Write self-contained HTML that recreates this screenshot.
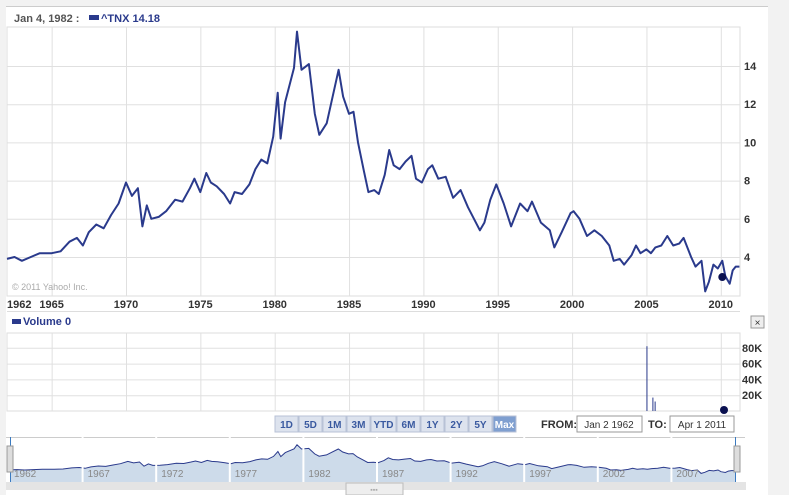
<!DOCTYPE html>
<html><head><meta charset="utf-8"><style>
body{margin:0;width:789px;height:495px;overflow:hidden;background:#fff;font-family:"Liberation Sans",sans-serif}
svg{display:block}
.btn{cursor:pointer}
</style></head><body>
<svg width="789" height="495" viewBox="0 0 789 495">
<rect x="0" y="0" width="789" height="495" fill="#f2f2f2"/>
<rect x="6" y="6" width="762" height="489" fill="#fff"/>
<line x1="6" y1="6.5" x2="768" y2="6.5" stroke="#ccc"/>
<text x="14" y="22" font-size="11" font-weight="bold" fill="#555">Jan 4, 1982 :</text>
<rect x="89" y="15" width="10" height="5" fill="#2a3a8c"/>
<text x="101" y="22" font-size="11" font-weight="bold" fill="#2a3a8c">^TNX  14.18</text>
<g id="main-grid"></g>
<g id="main-ylabels"></g>
<g id="main-xlabels"></g>
<text x="12" y="290" font-size="9" fill="#aaa">© 2011 Yahoo! Inc.</text>
<path id="main-line" fill="none" stroke="#2a3a8c" stroke-width="2" stroke-linejoin="round"/>
<circle id="main-dot" r="4" fill="#0a1050"/>
<rect x="12" y="319" width="9" height="5" fill="#2a3a8c"/>
<text x="23" y="325" font-size="11" font-weight="bold" fill="#2a3a8c">Volume  0</text>
<g class="btn">
<rect x="751" y="316" width="13" height="12" fill="#eee" stroke="#999"/>
<text x="757.5" y="326" font-size="10" text-anchor="middle" fill="#333">×</text></g>
<g id="vol-grid"></g>
<g id="vol-bars"></g>
<g id="vol-labels"></g>
<circle cx="724" cy="410" r="4" fill="#0a1050"/>
<g id="buttons"></g>
<text x="541" y="428" font-size="11" font-weight="bold" fill="#333">FROM:</text>
<rect x="577" y="416" width="65" height="16" fill="#fff" stroke="#999"/>
<text x="609" y="428" font-size="10" text-anchor="middle" fill="#333">Jan 2 1962</text>
<text x="648" y="428" font-size="11" font-weight="bold" fill="#333">TO:</text>
<rect x="670" y="416" width="64" height="16" fill="#fff" stroke="#999"/>
<text x="702" y="428" font-size="10" text-anchor="middle" fill="#333">Apr 1 2011</text>
<line x1="6" y1="437.5" x2="745" y2="437.5" stroke="#ccc"/>
<path id="nav-area" fill="#cddbea"/>
<path id="nav-line" fill="none" stroke="#2a3a8c" stroke-width="1"/>
<g id="nav-grid"></g>
<line x1="10.5" y1="437" x2="10.5" y2="482" stroke="#3a7ac0"/>
<line x1="735.5" y1="437" x2="735.5" y2="482" stroke="#3a7ac0"/>
<rect x="7" y="446" width="6" height="26" fill="#ddd" stroke="#999"/>
<rect x="734" y="446" width="6" height="26" fill="#ddd" stroke="#999"/>
<rect x="6" y="482" width="740" height="8" fill="#e4e4e4"/>
<rect x="346" y="483" width="57" height="12" fill="#eee" stroke="#bbb"/>
<text x="374" y="492" font-size="7" text-anchor="middle" fill="#aaa">▪▪▪</text>
</svg>
<script>
const years=[1962,1962.5,1963,1963.6,1964.2,1965,1965.6,1966.2,1966.7,1967.1,1967.5,1968,1968.5,1969,1969.5,1970,1970.4,1970.8,1971.1,1971.4,1971.7,1972.2,1972.7,1973.3,1973.8,1974.3,1974.6,1975,1975.4,1975.7,1976.1,1976.6,1977,1977.3,1977.8,1978.3,1978.7,1979.1,1979.5,1979.9,1980.2,1980.4,1980.7,1981.3,1981.5,1981.8,1982.3,1982.7,1983,1983.5,1984.3,1984.6,1985,1985.3,1985.6,1986,1986.3,1986.7,1987,1987.4,1987.7,1988,1988.4,1988.8,1989.2,1989.5,1989.9,1990.3,1990.6,1991,1991.5,1992,1992.5,1993,1993.8,1994.1,1994.5,1994.9,1995.4,1995.9,1996.5,1997,1997.3,1997.9,1998.5,1998.8,1999.3,1999.9,2000.1,2000.5,2001,2001.5,2002,2002.5,2002.8,2003.2,2003.5,2004,2004.3,2004.6,2005,2005.3,2005.6,2006,2006.4,2006.8,2007.2,2007.5,2008,2008.3,2008.7,2008.95,2009.2,2009.5,2009.8,2010.1,2010.3,2010.6,2010.8,2011,2011.25];
const values=[3.9,4.0,3.8,4.0,4.2,4.2,4.3,4.8,5.0,4.6,5.3,5.7,5.5,6.2,6.8,7.9,7.2,7.6,5.6,6.7,6.0,6.1,6.4,7.0,6.9,7.6,8.1,7.4,8.4,7.9,7.7,7.3,6.8,7.4,7.3,7.8,8.6,9.1,8.9,10.3,12.6,10.2,12.1,13.9,15.8,13.8,14.1,11.5,10.4,11.0,13.8,12.4,11.5,11.6,10.0,8.5,7.4,7.5,7.3,8.3,9.6,8.8,8.6,9.0,9.3,8.1,7.9,8.6,8.8,8.1,8.2,7.1,7.5,6.6,5.4,5.8,7.0,7.8,6.8,5.6,6.8,6.4,6.9,5.8,5.4,4.5,5.3,6.3,6.4,6.0,5.1,5.4,5.1,4.6,3.8,3.9,3.6,4.1,4.6,4.2,4.4,4.2,4.5,4.6,5.1,4.6,4.7,5.0,4.0,3.5,3.8,2.2,2.7,3.6,3.4,3.8,3.0,2.6,3.3,3.5,3.5];
const yTicks=[4,6,8,10,12,14];
const xTicks=[1962,1965,1970,1975,1980,1985,1990,1995,2000,2005,2010];
const volYears=[2005,2005.4,2005.55];
const volValues=[82000,17000,12000];
const volTicks=[20000,40000,60000,80000];
const navTicks=[1962,1967,1972,1977,1982,1987,1992,1997,2002,2007];
const dotYear=2010.1, dotValue=2.95;
const NS='http://www.w3.org/2000/svg';
const X=y=>126+(y-1970)*14.87;
const Y=v=>257-(v-4)*19.1;
const VY=v=>411-v*0.00079;
const NX=y=>10+(y-1962)*14.72;
const NY=v=>478-v*2.1;
function mk(tag,attrs,parent,txt){const e=document.createElementNS(NS,tag);for(const k in attrs)e.setAttribute(k,attrs[k]);if(txt!==undefined)e.textContent=txt;parent.appendChild(e);return e;}
const mg=document.getElementById('main-grid');
mk('rect',{x:7,y:27,width:733,height:269,fill:'none',stroke:'#ddd'},mg);
mk('line',{x1:7,y1:311.5,x2:740,y2:311.5,stroke:'#ddd'},mg);
const yl=document.getElementById('main-ylabels');
yTicks.forEach(t=>{
 const l=mk('line',{x1:7,x2:740,y1:Y(t)+0.5,y2:Y(t)+0.5,stroke:'#e0e0e0'},mg);
 
 
 const tx=mk('text',{x:744,y:Y(t)+4,'font-size':11,'font-weight':'bold',fill:'#333'},yl,String(t));
 
 
});
const xl=document.getElementById('main-xlabels');
xTicks.forEach(t=>{
 if(t!==1962){const l=mk('line',{x1:X(t)+0.5,x2:X(t)+0.5,y1:27,y2:296,stroke:'#e0e0e0'},mg);
 
 }
 const tx=mk('text',{x:t===1962?7:X(t),y:308,'font-size':11,'font-weight':'bold',fill:'#333','text-anchor':t===1962?'start':'middle'},xl,String(t));
 
 
});
let d='';years.forEach((y,i)=>{d+=(i?'L':'M')+X(y).toFixed(1)+','+Y(values[i]).toFixed(1);});
document.getElementById('main-line').setAttribute('d',d);
const dot=document.getElementById('main-dot');dot.setAttribute('cx',X(dotYear));dot.setAttribute('cy',Y(dotValue));
// volume
const vg=document.getElementById('vol-grid');
mk('rect',{x:7,y:333,width:733,height:78,fill:'none',stroke:'#ddd'},vg);
const vl=document.getElementById('vol-labels');
volTicks.forEach(t=>{
 mk('line',{x1:7,x2:740,y1:VY(t)+0.5,y2:VY(t)+0.5,stroke:'#e0e0e0'},vg);
 const tx=mk('text',{x:742,y:VY(t)+4,'font-size':11,'font-weight':'bold',fill:'#333'},vl,(t/1000)+'K');
 
 
});
xTicks.forEach(t=>{if(t!==1962)mk('line',{x1:X(t)+0.5,x2:X(t)+0.5,y1:333,y2:411,stroke:'#e0e0e0'},vg);});
const vb=document.getElementById('vol-bars');
volYears.forEach((y,i)=>{
 const b=mk('rect',{x:X(y),y:VY(volValues[i]),width:1,height:411-VY(volValues[i]),fill:'#2a3a8c'},vb);
 
 
});
// buttons
const labels=['1D','5D','1M','3M','YTD','6M','1Y','2Y','5Y','Max'];
const widths=[24,24,24,24,26,24,24,24,24,24];
const bg=document.getElementById('buttons');let bx=275;
labels.forEach((l,i)=>{
 const g=mk('g',{},bg);
 
 
 mk('rect',{x:bx,y:416,width:widths[i]-1,height:16,fill:l==='Max'?'#7f9fd0':'#dde3ee',stroke:'#b8c2d6'},g);
 mk('text',{x:bx+(widths[i]-1)/2,y:428,'font-size':10,'font-weight':'bold','text-anchor':'middle',fill:l==='Max'?'#fff':'#3a5aa0'},g,l);
 bx+=widths[i];
});
// navigator
let nd='M'+NX(1962)+',482';let nl='';
years.forEach((y,i)=>{const p=NX(y).toFixed(1)+','+NY(values[i]).toFixed(1);nd+='L'+p;nl+=(i?'L':'M')+p;});
nd+='L'+NX(2011.25)+',482Z';
document.getElementById('nav-area').setAttribute('d',nd);
document.getElementById('nav-line').setAttribute('d',nl);
const ng=document.getElementById('nav-grid');
navTicks.forEach(t=>{
 if(t!==1962)mk('line',{x1:NX(t)-1,x2:NX(t)-1,y1:437,y2:482,stroke:'#fff','stroke-width':2},ng);
 const tx=mk('text',{x:NX(t)+4,y:477,'font-size':10,fill:'#888'},ng,String(t));
 
 
});
</script>
</body></html>
